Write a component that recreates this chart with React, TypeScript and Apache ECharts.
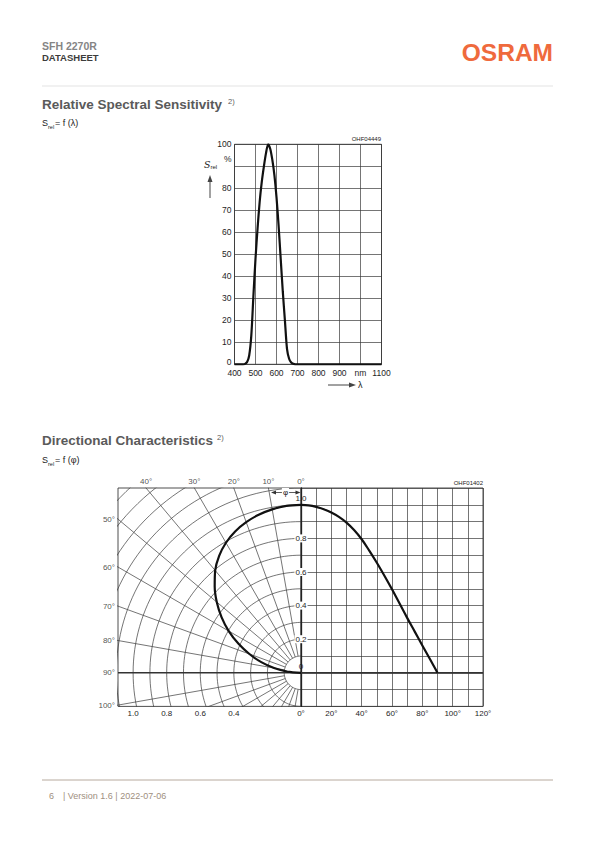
import React, { useEffect, useRef } from "react";
import * as echarts from "echarts";

const FONT = "'Liberation Sans', Arial, Helvetica, sans-serif";

// ---------- Relative spectral sensitivity ----------
const specWavelength = [400, 430, 440, 450, 460, 470, 480, 490, 500, 510, 520, 530, 540, 550, 560, 570, 580, 590, 600, 610, 620, 630, 640, 650, 660, 670, 680, 690, 700, 1100];
const specSensitivity = [0, 0, 0, 0.2, 1, 4, 13, 31, 48, 62, 74, 83, 90, 96, 100, 98, 93, 86, 76, 63, 48, 33, 20, 7, 2.5, 0.8, 0.2, 0, 0, 0];
const specXTicks = [400, 500, 600, 700, 800, 900, 1000, 1100];
const specXLabels = ["400", "500", "600", "700", "800", "900", "nm", "1100"];
const specYTicks = [0, 10, 20, 30, 40, 50, 60, 70, 80, 90, 100];
const specYLabels = ["0", "10", "20", "30", "40", "50", "60", "70", "80", "%", "100"];

// ---------- Directional characteristics ----------
const dirAngle = [0, 5, 10, 15, 20, 25, 30, 35, 40, 45, 50, 55, 60, 65, 70, 75, 80, 85, 90];
const dirIntensity = [1.0, 0.997, 0.988, 0.974, 0.954, 0.928, 0.894, 0.85, 0.795, 0.727, 0.655, 0.578, 0.497, 0.412, 0.327, 0.245, 0.163, 0.082, 0];
const dirXLabelValues = [0, 20, 40, 60, 80, 100, 120];
const dirYLabelValues = [0, 0.2, 0.4, 0.6, 0.8, 1.0];
const dirRadiusLabels = [1.0, 0.8, 0.6, 0.4];
const polarLabelAngles = [0, 10, 20, 30, 40, 50, 60, 70, 80, 90, 100];
const polarRadialAngles = [10, 20, 30, 40, 50, 60, 70, 80, 100, 110, 120, 130, 140, 150, 160, 170];
const polarArcRadii = [0.1, 0.2, 0.3, 0.4, 0.5, 0.6, 0.7, 0.8, 0.9, 1.0, 1.1, 1.2, 1.3, 1.4, 1.5];

const POLAR_XMIN = -1.09;
const DIR_YMIN = -0.2;
const DIR_YMAX = 1.1;

const rad = (d: number) => (d * Math.PI) / 180;
const polarXY = (angle: number, r: number) => [-r * Math.sin(rad(angle)), r * Math.cos(rad(angle))];

const GRID_COLOR = "#3a3a3a";
const TEXT_COLOR = "#1e1e1e";

const txt = (x: number, y: number, text: string, extra: any = {}, align = "left", z?: number) => ({
  type: "text",
  x,
  y,
  ...(z !== undefined ? { z } : {}),
  style: {
    text,
    fontFamily: FONT,
    fontSize: 9,
    fill: "#222",
    align,
    verticalAlign: "middle",
    textAlign: align,
    textVerticalAlign: "middle",
    ...extra,
  },
});

function buildOption() {
  const series: any[] = [];

  // spectral curve
  series.push({
    type: "line",
    xAxisIndex: 0,
    yAxisIndex: 0,
    data: specWavelength.map((w, i) => [w, specSensitivity[i]]),
    showSymbol: false,
    smooth: 0.25,
    lineStyle: { color: "#111", width: 2.2 },
    z: 5,
    silent: true,
  });

  // polar grid: arcs
  polarArcRadii.forEach((r) => {
    const pts: number[][] = [];
    for (let a = 0; a <= 180; a += 2) pts.push(polarXY(a, r));
    series.push({
      type: "line",
      xAxisIndex: 1,
      yAxisIndex: 1,
      data: pts,
      showSymbol: false,
      lineStyle: { color: GRID_COLOR, width: 0.7 },
      silent: true,
      z: 2,
    });
  });
  // polar grid: radial lines
  polarRadialAngles.forEach((a) => {
    series.push({
      type: "line",
      xAxisIndex: 1,
      yAxisIndex: 1,
      data: [polarXY(a, 0.1), polarXY(a, 2.5)],
      showSymbol: false,
      lineStyle: { color: GRID_COLOR, width: 0.7 },
      silent: true,
      z: 2,
    });
  });
  // 90° baseline (thicker) across both parts
  series.push({
    type: "line",
    xAxisIndex: 1,
    yAxisIndex: 1,
    data: [[POLAR_XMIN, 0], [0, 0]],
    showSymbol: false,
    lineStyle: { color: "#333", width: 1.4 },
    silent: true,
    z: 3,
  });
  series.push({
    type: "line",
    xAxisIndex: 2,
    yAxisIndex: 2,
    data: [[0, 0], [120, 0]],
    showSymbol: false,
    lineStyle: { color: "#333", width: 1.4 },
    silent: true,
    z: 4,
  });

  // polar curve
  series.push({
    type: "line",
    xAxisIndex: 1,
    yAxisIndex: 1,
    data: dirAngle.map((a, i) => polarXY(a, dirIntensity[i])),
    showSymbol: false,
    smooth: 0.3,
    lineStyle: { color: "#111", width: 2.2 },
    silent: true,
    z: 6,
  });
  // cartesian curve
  series.push({
    type: "line",
    xAxisIndex: 2,
    yAxisIndex: 2,
    data: dirAngle.map((a, i) => [a, dirIntensity[i]]),
    showSymbol: false,
    smooth: 0.4,
    lineStyle: { color: "#111", width: 2.2 },
    silent: true,
    z: 6,
  });

  // polar angle labels at the frame
  series.push({
    type: "scatter",
    xAxisIndex: 1,
    yAxisIndex: 1,
    symbolSize: 0,
    clip: false,
    silent: true,
    z: 7,
    data: polarLabelAngles.map((a) => {
      let x: number, y: number, pos: string;
      if (a === 0) {
        x = 0; y = DIR_YMAX; pos = "top";
      } else {
        const xt = -DIR_YMAX * Math.tan(rad(a));
        if (a < 90 && xt >= POLAR_XMIN) {
          x = xt; y = DIR_YMAX; pos = "top";
        } else {
          x = POLAR_XMIN; y = -POLAR_XMIN / Math.tan(rad(a)); pos = "left";
          if (a === 90) y = 0;
        }
      }
      return {
        value: [x, y],
        name: `${a}°`,
        label: { position: pos, distance: 3 },
      };
    }),
    label: {
      show: true,
      formatter: "{b}",
      fontFamily: FONT,
      fontSize: 8,
      color: TEXT_COLOR,
    },
  });

  const labelBase = { fontFamily: FONT, fontSize: 8.5, color: TEXT_COLOR };

  return {
    animation: false,
    backgroundColor: "#fff",
    grid: [
      { left: 234.5, top: 144.3, width: 147, height: 220, show: true, borderColor: GRID_COLOR, borderWidth: 0.9, containLabel: false },
      { left: 118, top: 488, width: 183, height: 218.4, show: true, borderColor: GRID_COLOR, borderWidth: 0.9, containLabel: false },
      { left: 301, top: 488, width: 182, height: 218.4, show: true, borderColor: GRID_COLOR, borderWidth: 0.9, containLabel: false },
    ],
    xAxis: [
      {
        type: "value", gridIndex: 0, min: 400, max: 1100, interval: 100,
        axisLine: { show: false }, axisTick: { show: false },
        splitLine: { show: true, lineStyle: { color: GRID_COLOR, width: 0.7 } },
        axisLabel: {
          ...labelBase, margin: 4, showMinLabel: true, showMaxLabel: true, hideOverlap: false,
          formatter: (v: number) => {
            const i = specXTicks.indexOf(v);
            return i >= 0 ? specXLabels[i] : "";
          },
        },
      },
      {
        type: "value", gridIndex: 1, min: POLAR_XMIN, max: 0,
        axisLine: { show: false }, axisTick: { show: false }, splitLine: { show: false },
        axisLabel: {
          ...labelBase, fontSize: 8, margin: 3,
          customValues: dirRadiusLabels.map((r) => -r),
          formatter: (v: number) => Math.abs(v).toFixed(1),
        },
      },
      {
        type: "value", gridIndex: 2, min: 0, max: 120, interval: 10,
        axisLine: { show: false }, axisTick: { show: false },
        splitLine: { show: true, lineStyle: { color: GRID_COLOR, width: 0.7 } },
        axisLabel: {
          ...labelBase, fontSize: 8, margin: 3, showMinLabel: true, showMaxLabel: true,
          customValues: dirXLabelValues,
          formatter: (v: number) => `${v}°`,
        },
      },
    ],
    yAxis: [
      {
        type: "value", gridIndex: 0, min: 0, max: 100, interval: 10,
        axisLine: { show: false }, axisTick: { show: false },
        splitLine: { show: true, lineStyle: { color: GRID_COLOR, width: 0.7 } },
        axisLabel: {
          ...labelBase, margin: 3, showMinLabel: true, showMaxLabel: true,
          formatter: (v: number) => {
            const i = specYTicks.indexOf(v);
            const t = i >= 0 ? specYLabels[i] : "";
            if (t === "%") return "{p|%}";
            if (v === 0) return "{z|0}";
            return t;
          },
          rich: {
            p: { fontFamily: FONT, fontSize: 8.5, color: TEXT_COLOR, padding: [0, 0, 14, 0] },
            z: { fontFamily: FONT, fontSize: 8.5, color: TEXT_COLOR, padding: [0, 0, 5, 0] },
          },
        },
      },
      {
        type: "value", gridIndex: 1, min: DIR_YMIN, max: DIR_YMAX, show: false,
        splitLine: { show: false },
      },
      {
        type: "value", gridIndex: 2, min: DIR_YMIN, max: DIR_YMAX, interval: 0.1,
        z: 3,
        axisLine: { show: true, onZero: false, lineStyle: { color: "#222", width: 1.3 } },
        axisTick: { show: false },
        splitLine: { show: true, lineStyle: { color: GRID_COLOR, width: 0.7 } },
        axisLabel: {
          ...labelBase, fontSize: 8, margin: 0, align: "center",
          customValues: dirYLabelValues,
          formatter: (v: number) => {
            const t = v === 0 ? "0" : v.toFixed(1);
            return v === 0 || Math.abs(v - 1) < 1e-6 ? `{u|${t}}` : `{n|${t}}`;
          },
          rich: {
            u: { fontFamily: FONT, fontSize: 8, color: TEXT_COLOR, padding: [0, 1, 13, 1] },
            n: { fontFamily: FONT, fontSize: 8, color: TEXT_COLOR, backgroundColor: "#fff", padding: [0, 1, 0, 1] },
          },
        },
      },
    ],
    series,
    graphic: [
      // header
      txt(42, 46, "SFH 2270R", { fontSize: 10.5, fontWeight: "bold", fill: "#858585" }),
      txt(42, 57.5, "DATASHEET", { fontSize: 9.5, fontWeight: "bold", fill: "#3c3c3c" }),
      txt(553, 52, "OSRAM", { fontSize: 24.5, fontWeight: "bold", fill: "#ef6a3d" }, "right"),
      { type: "line", shape: { x1: 42, y1: 86, x2: 553, y2: 86 }, style: { stroke: "#dcdcdc", lineWidth: 0.8 } },

      // section 1 headings
      txt(42, 104, "Relative Spectral Sensitivity", { fontSize: 13.5, fontWeight: "bold", fill: "#5a5a5a" }),
      txt(228, 101, "2)", { fontSize: 7.5, fill: "#5a5a5a" }),
      txt(42, 123, "S", { fontSize: 9 }),
      txt(48, 126.5, "rel", { fontSize: 5.5 }),
      txt(55, 123, "= f (λ)", { fontSize: 9 }),

      // spectral chart decorations
      txt(381, 139, "OHF04449", { fontSize: 6 }, "right"),
      txt(204, 164, "S", { fontFamily: "'DejaVu Serif', 'Liberation Serif', serif", fontStyle: "italic", fontSize: 9.5 }),
      txt(210.5, 167, "rel", { fontSize: 6 }),
      { type: "line", shape: { x1: 210, y1: 198, x2: 210, y2: 181 }, style: { stroke: "#444", lineWidth: 1 } },
      { type: "polygon", shape: { points: [[207.5, 182], [212.5, 182], [210, 175]] }, style: { fill: "#444" } },
      { type: "line", shape: { x1: 328, y1: 385, x2: 350, y2: 385 }, style: { stroke: "#444", lineWidth: 1 } },
      { type: "polygon", shape: { points: [[349, 382.5], [349, 387.5], [356, 385]] }, style: { fill: "#444" } },
      txt(358, 385, "λ", { fontSize: 9 }),

      // section 2 headings
      txt(42, 440, "Directional Characteristics", { fontSize: 13.5, fontWeight: "bold", fill: "#5a5a5a" }),
      txt(217, 437, "2)", { fontSize: 7.5, fill: "#5a5a5a" }),
      txt(42, 460, "S", { fontSize: 9 }),
      txt(48, 463.5, "rel", { fontSize: 5.5 }),
      txt(55, 460, "= f (φ)", { fontSize: 9 }),

      // directional decorations
      txt(483, 483, "OHF01402", { fontSize: 6 }, "right"),
      { type: "line", z: 20, shape: { x1: 274, y1: 492.5, x2: 298, y2: 492.5 }, style: { stroke: "#333", lineWidth: 0.8 } },
      { type: "polygon", z: 20, shape: { points: [[271, 492.5], [276, 490.5], [276, 494.5]] }, style: { fill: "#333" } },
      { type: "polygon", z: 20, shape: { points: [[300.5, 492.5], [295.5, 490.5], [295.5, 494.5]] }, style: { fill: "#333" } },
      txt(285.5, 492, "φ", { fontSize: 8, backgroundColor: "#fff", padding: [0, 1] }, "center", 21),

      // footer
      { type: "line", shape: { x1: 42, y1: 780, x2: 553, y2: 780 }, style: { stroke: "#a59585", lineWidth: 0.8 } },
      txt(49, 795.5, "6", { fontSize: 9, fill: "#a08f80" }),
      txt(63, 795.5, "| Version 1.6 | 2022-07-06", { fontSize: 9, fill: "#a08f80" }),
    ],
  };
}

export default function App() {
  const ref = useRef<HTMLDivElement>(null);
  useEffect(() => {
    if (!ref.current) return;
    const chart = echarts.init(ref.current, null, { renderer: "svg", width: 595, height: 842 });
    chart.setOption(buildOption() as any);
    return () => chart.dispose();
  }, []);
  return (
    <div
      ref={ref}
      style={{ position: "absolute", left: 0, top: 0, width: 595, height: 842, background: "#fff" }}
    />
  );
}
